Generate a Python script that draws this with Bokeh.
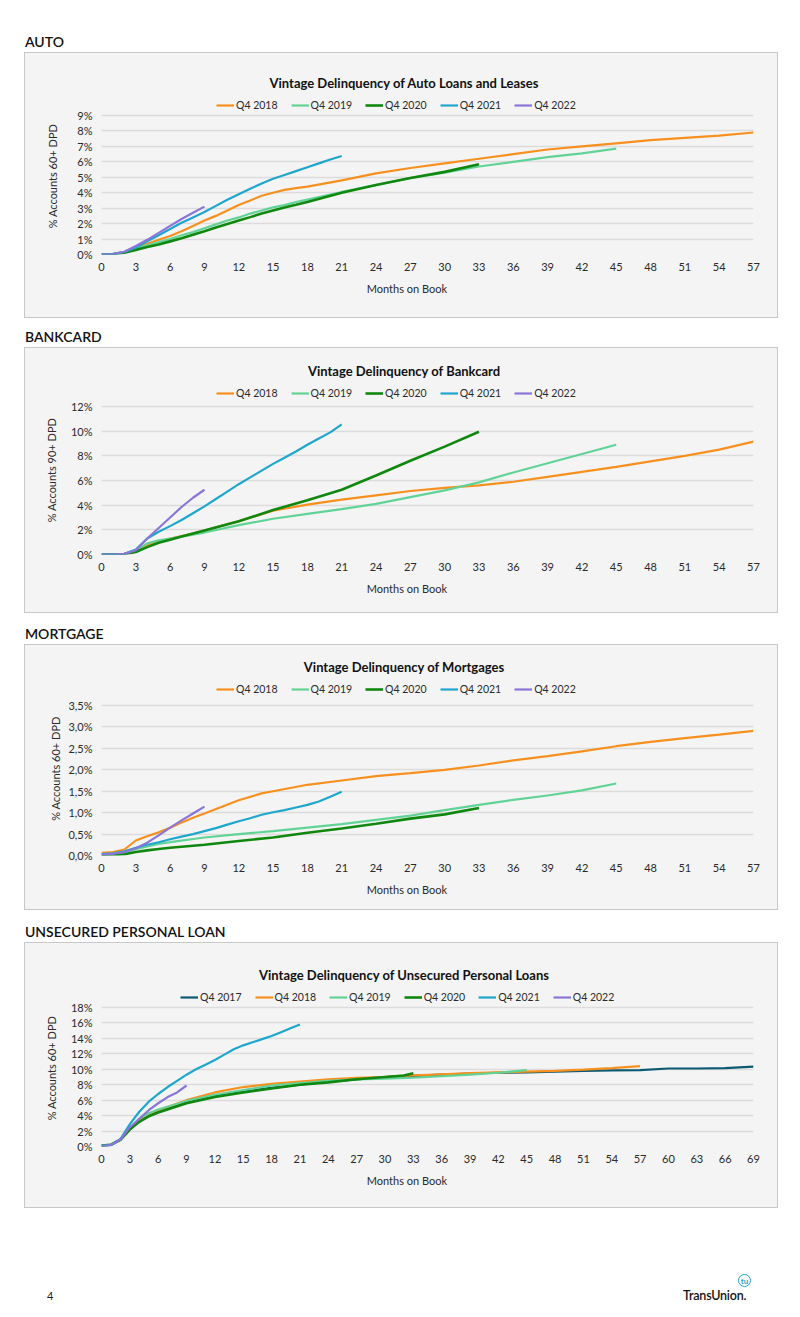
from bokeh.plotting import figure
from bokeh.models import (Legend, LegendItem, FixedTicker, Range1d, Div,
                          CustomJSTickFormatter)
from bokeh.layouts import column
from bokeh.embed import file_html
from bokeh.resources import INLINE

FONT = "Lato"
BG = "#f4f4f4"
COLORS = {"Q4 2017": "#0b5a72", "Q4 2018": "#f7901e", "Q4 2019": "#62d396",
          "Q4 2020": "#10870f", "Q4 2021": "#1fa6cc", "Q4 2022": "#8a75d9"}

# ---------------- AUTO ----------------
auto_m_2018 = [0,1,2,3,4,5,6,7,8,9,10,11,12,13,14,15,16,17,18,21,24,27,30,33,36,39,42,45,48,51,54,57]
auto_v_2018 = [0,0.03,0.18,0.45,0.7,0.95,1.2,1.5,1.85,2.2,2.5,2.85,3.2,3.5,3.8,4.0,4.18,4.3,4.4,4.8,5.25,5.6,5.9,6.2,6.5,6.8,7.0,7.2,7.4,7.55,7.7,7.9]
auto_m_2019 = [0,1,2,3,4,5,6,7,8,9,10,11,12,13,14,15,16,17,18,21,24,27,30,33,36,39,42,45]
auto_v_2019 = [0,0.02,0.15,0.4,0.6,0.8,1.0,1.25,1.45,1.7,1.95,2.2,2.4,2.65,2.85,3.05,3.2,3.4,3.55,4.05,4.5,4.95,5.3,5.7,6.0,6.3,6.55,6.85]
auto_m_2020 = [0,1,2,3,4,5,6,7,8,9,10,11,12,13,14,15,16,17,18,21,24,27,30,33]
auto_v_2020 = [0,0.02,0.12,0.3,0.48,0.65,0.85,1.05,1.28,1.5,1.75,1.98,2.2,2.42,2.65,2.85,3.05,3.22,3.4,4.0,4.5,4.95,5.35,5.85]
auto_m_2021 = [0,1,2,3,4,5,6,7,8,9,10,11,12,13,14,15,16,17,18,19,20,21]
auto_v_2021 = [0,0.03,0.17,0.45,0.85,1.25,1.65,2.05,2.4,2.75,3.15,3.55,3.9,4.25,4.6,4.9,5.15,5.4,5.65,5.9,6.15,6.38]
auto_m_2022 = [0,1,2,3,4,5,6,7,8,9]
auto_v_2022 = [0,0.03,0.18,0.55,0.95,1.4,1.85,2.3,2.7,3.1]

# ---------------- BANKCARD ----------------
bank_m_2018 = [0,1,2,3,4,5,6,7,8,9,10,11,12,15,18,21,24,27,30,33,36,39,42,45,48,51,54,57]
bank_v_2018 = [0,0,0.05,0.3,0.75,1.05,1.3,1.5,1.7,1.95,2.2,2.45,2.7,3.55,4.05,4.45,4.8,5.15,5.4,5.6,5.9,6.3,6.7,7.1,7.55,8.0,8.5,9.15]
bank_m_2019 = [0,1,2,3,4,5,6,7,8,9,12,15,18,21,24,27,30,33,36,39,42,45]
bank_v_2019 = [0,0,0.05,0.35,0.9,1.15,1.3,1.45,1.6,1.78,2.38,2.9,3.3,3.68,4.1,4.65,5.2,5.85,6.65,7.4,8.15,8.9]
bank_m_2020 = [0,1,2,3,4,5,6,7,8,9,12,15,18,21,24,27,30,33]
bank_v_2020 = [0,0,0.03,0.2,0.6,0.95,1.2,1.45,1.7,1.95,2.7,3.6,4.4,5.25,6.4,7.6,8.75,9.95]
bank_m_2021 = [0,1,2,3,4,5,6,7,8,9,10,11,12,13,14,15,16,17,18,19,20,21]
bank_v_2021 = [0,0,0.05,0.4,1.3,1.85,2.3,2.8,3.35,3.9,4.5,5.1,5.7,6.25,6.8,7.35,7.85,8.35,8.9,9.4,9.9,10.55]
bank_m_2022 = [0,1,2,3,4,5,6,7,8,9]
bank_v_2022 = [0,0,0.05,0.35,1.3,2.15,3.0,3.85,4.6,5.25]

# ---------------- MORTGAGE ----------------
mort_m_2018 = [0,1,2,3,4,5,6,7,8,9,12,14,15,18,21,24,27,30,33,36,39,42,45,48,51,54,57]
mort_v_2018 = [0.06,0.08,0.14,0.35,0.45,0.54,0.65,0.77,0.88,0.98,1.29,1.45,1.5,1.65,1.75,1.85,1.92,2.0,2.1,2.22,2.32,2.43,2.55,2.65,2.74,2.82,2.91]
mort_m_2019 = [0,1,2,3,4,5,6,9,12,15,18,21,24,27,30,33,36,39,42,45]
mort_v_2019 = [0.02,0.03,0.07,0.15,0.21,0.27,0.31,0.42,0.5,0.57,0.65,0.73,0.83,0.93,1.06,1.18,1.3,1.4,1.52,1.68]
mort_m_2020 = [0,1,2,3,4,5,6,9,12,15,18,21,24,27,30,33]
mort_v_2020 = [0,0.01,0.03,0.08,0.12,0.15,0.18,0.25,0.34,0.42,0.53,0.63,0.74,0.86,0.96,1.11]
mort_m_2021 = [0,1,2,3,4,5,6,7,8,9,10,11,12,13,14,15,16,17,18,19,20,21]
mort_v_2021 = [0.03,0.05,0.1,0.18,0.25,0.31,0.38,0.44,0.5,0.57,0.64,0.72,0.8,0.87,0.95,1.01,1.06,1.12,1.18,1.26,1.37,1.49]
mort_m_2022 = [0,1,2,3,4,5,6,7,8,9]
mort_v_2022 = [0.02,0.04,0.08,0.17,0.3,0.47,0.65,0.82,0.98,1.14]

# ---------------- UNSECURED PERSONAL LOAN ----------------
upl_m_2017 = [0,1,2,3,4,5,6,9,12,15,18,21,24,27,30,33,36,39,42,45,48,51,54,57,60,63,66,69]
upl_v_2017 = [0.15,0.25,0.9,2.3,3.4,4.0,4.5,5.7,6.5,7.1,7.6,8.0,8.4,8.7,9.0,9.15,9.3,9.45,9.55,9.6,9.7,9.8,9.85,9.9,10.1,10.1,10.15,10.35]
upl_m_2018 = [0,1,2,3,4,5,6,9,12,15,18,21,24,27,30,33,36,39,42,45,48,51,54,57]
upl_v_2018 = [0.1,0.25,0.9,2.3,3.5,4.2,4.7,6.0,7.0,7.7,8.1,8.4,8.7,8.9,9.0,9.2,9.35,9.5,9.6,9.7,9.8,9.95,10.15,10.4]
upl_m_2019 = [0,1,2,3,4,5,6,9,12,15,18,21,24,27,30,33,36,39,42,45]
upl_v_2019 = [0.1,0.25,0.9,2.3,3.6,4.3,4.8,5.9,6.7,7.3,7.9,8.2,8.5,8.7,8.8,8.9,9.1,9.3,9.55,9.9]
upl_m_2020 = [0,1,2,3,4,5,6,9,12,15,18,21,24,27,30,32,33]
upl_v_2020 = [0.1,0.2,0.85,2.2,3.2,3.9,4.4,5.6,6.4,7.0,7.5,8.0,8.3,8.7,9.0,9.2,9.5]
upl_m_2021 = [0,1,2,3,4,5,6,7,8,9,10,11,12,13,14,15,16,17,18,19,20,21]
upl_v_2021 = [0.1,0.2,0.95,2.9,4.5,5.8,6.8,7.7,8.5,9.3,10.0,10.6,11.2,11.9,12.6,13.1,13.5,13.9,14.3,14.8,15.3,15.8]
upl_m_2022 = [0,1,2,3,4,5,6,7,8,9]
upl_v_2022 = [0,0.2,0.9,2.5,3.6,4.7,5.6,6.4,7.0,7.9]

# ---------------- ticks ----------------
x_ticks_57 = [0,3,6,9,12,15,18,21,24,27,30,33,36,39,42,45,48,51,54,57]
x_ticks_69 = [0,3,6,9,12,15,18,21,24,27,30,33,36,39,42,45,48,51,54,57,60,63,66,69]
auto_y_ticks = [0,1,2,3,4,5,6,7,8,9]
auto_y_labels = ["0%","1%","2%","3%","4%","5%","6%","7%","8%","9%"]
bank_y_ticks = [0,2,4,6,8,10,12]
bank_y_labels = ["0%","2%","4%","6%","8%","10%","12%"]
mort_y_ticks = [0,0.5,1.0,1.5,2.0,2.5,3.0,3.5]
mort_y_labels = ["0,0%","0,5%","1,0%","1,5%","2,0%","2,5%","3,0%","3,5%"]
upl_y_ticks = [0,2,4,6,8,10,12,14,16,18]
upl_y_labels = ["0%","2%","4%","6%","8%","10%","12%","14%","16%","18%"]

X_LABEL = "Months on Book"
EM = "\u2003"   # trailing em spaces move the centred axis title left, under the box centre


def chart(title, ylabel, series, x_ticks, y_ticks, y_labels, title_off, legend_off,
          frame_top, frame_bottom, legend_left, ylabel_standoff):
    W, BOX_H = 752, 264
    head_h = title_off + 8                      # strip of the box used by the title
    H = BOX_H - head_h
    ext_top = legend_off - 8                    # frame reaches up to the legend
    grid_px = frame_bottom - frame_top
    frame_px = frame_bottom - ext_top
    y_end = y_ticks[-1] * frame_px / grid_px    # room above the top gridline for the legend

    title_div = Div(text=title, width=W, height=16, margin=(title_off - 8, 0, 0, 0),
                    styles={"font-family": FONT, "font-size": "13px", "font-weight": "700",
                            "line-height": "16px", "color": "#111111",
                            "text-align": "center", "padding-left": "6px",
                            "box-sizing": "border-box"})
    p = figure(width=W, height=H, output_backend="svg", toolbar_location=None,
               x_range=Range1d(x_ticks[0], x_ticks[-1]),
               y_range=Range1d(y_ticks[0], y_end),
               min_border_left=76, min_border_right=24,
               min_border_top=ext_top - head_h, min_border_bottom=BOX_H - frame_bottom,
               background_fill_color=BG, border_fill_color=BG,
               outline_line_color=None, margin=0)
    items = []
    for name, xs, ys in series:
        lw = 2.6 if name == "Q4 2020" else 2.2
        r = p.line(xs, ys, line_color=COLORS[name], line_width=lw)
        items.append(LegendItem(label=name, renderers=[r]))

    p.xgrid.grid_line_color = None
    p.ygrid.grid_line_color = "#dcdcdc"
    p.ygrid.grid_line_width = 1.3
    p.xaxis.ticker = FixedTicker(ticks=x_ticks)
    p.yaxis.ticker = FixedTicker(ticks=y_ticks)
    p.yaxis.formatter = CustomJSTickFormatter(args=dict(vals=y_ticks, labels=y_labels), code="""
        let best = 0;
        for (let i = 0; i < vals.length; i++) {
            if (Math.abs(vals[i] - tick) < Math.abs(vals[best] - tick)) best = i;
        }
        return labels[best];
    """)
    for ax in (p.xaxis, p.yaxis):
        ax.axis_line_color = None
        ax.major_tick_line_color = None
        ax.minor_tick_line_color = None
        ax.major_tick_out = 0
        ax.major_tick_in = 0
        ax.minor_tick_out = 0
        ax.major_label_text_font = FONT
        ax.major_label_text_font_size = "11px"
        ax.major_label_text_color = "#2a2a2a"
        ax.axis_label_text_font = FONT
        ax.axis_label_text_font_size = "11px"
        ax.axis_label_text_font_style = "normal"
        ax.axis_label_text_color = "#2a2a2a"
    p.xaxis.major_label_standoff = 8
    p.xaxis.axis_label = X_LABEL + EM * 5
    p.xaxis.axis_label_standoff = 8
    p.yaxis.major_label_standoff = 9
    p.yaxis.axis_label = ylabel
    p.yaxis.axis_label_standoff = ylabel_standoff

    legend = Legend(items=items, orientation="horizontal",
                    location=(legend_left - 100, frame_bottom - legend_off - 6),
                    glyph_width=18, glyph_height=12, label_height=12, label_standoff=2,
                    spacing=13, padding=0, margin=0, border_line_color=None,
                    background_fill_alpha=0, label_text_font=FONT,
                    label_text_font_size="10.5px", label_text_color="#2a2a2a")
    p.add_layout(legend)

    box = column(title_div, p, spacing=0, margin=(0, 0, 0, 24),
                 styles={"background-color": BG, "border": "1px solid #c8c8c8"})
    return box


def header(text, top):
    return Div(text=text, width=776, height=21, margin=(top, 0, 0, 25),
               styles={"font-family": FONT, "font-size": "14px", "font-weight": "600",
                       "line-height": "21px", "color": "#111111"})


p_auto = chart("Vintage Delinquency of Auto Loans and Leases", "% Accounts 60+ DPD",
               [("Q4 2018", auto_m_2018, auto_v_2018), ("Q4 2019", auto_m_2019, auto_v_2019),
                ("Q4 2020", auto_m_2020, auto_v_2020), ("Q4 2021", auto_m_2021, auto_v_2021),
                ("Q4 2022", auto_m_2022, auto_v_2022)],
               x_ticks_57, auto_y_ticks, auto_y_labels, 30, 52, 62, 201, 215, 15)
p_bank = chart("Vintage Delinquency of Bankcard", "% Accounts 90+ DPD",
               [("Q4 2018", bank_m_2018, bank_v_2018), ("Q4 2019", bank_m_2019, bank_v_2019),
                ("Q4 2020", bank_m_2020, bank_v_2020), ("Q4 2021", bank_m_2021, bank_v_2021),
                ("Q4 2022", bank_m_2022, bank_v_2022)],
               x_ticks_57, bank_y_ticks, bank_y_labels, 23, 45, 58, 206, 215, 10)
p_mort = chart("Vintage Delinquency of Mortgages", "% Accounts 60+ DPD",
               [("Q4 2018", mort_m_2018, mort_v_2018), ("Q4 2019", mort_m_2019, mort_v_2019),
                ("Q4 2020", mort_m_2020, mort_v_2020), ("Q4 2021", mort_m_2021, mort_v_2021),
                ("Q4 2022", mort_m_2022, mort_v_2022)],
               x_ticks_57, mort_y_ticks, mort_y_labels, 22, 44, 60, 210, 215, 3)
p_upl = chart("Vintage Delinquency of Unsecured Personal Loans", "% Accounts 60+ DPD",
              [("Q4 2017", upl_m_2017, upl_v_2017), ("Q4 2018", upl_m_2018, upl_v_2018),
               ("Q4 2019", upl_m_2019, upl_v_2019), ("Q4 2020", upl_m_2020, upl_v_2020),
               ("Q4 2021", upl_m_2021, upl_v_2021), ("Q4 2022", upl_m_2022, upl_v_2022)],
              x_ticks_69, upl_y_ticks, upl_y_labels, 32, 54, 64, 203, 179, 10)

footer = Div(text=(
    '<div style="position:relative;width:800px;height:32px;font-family:Lato;">'
    '<span style="position:absolute;left:47px;top:8px;font-size:11px;color:#222;">4</span>'
    '<span style="position:absolute;left:683px;top:7px;font-size:12.5px;font-weight:600;'
    'color:#111;letter-spacing:-0.2px;">TransUnion.</span>'
    '<span style="position:absolute;left:738px;top:-6px;width:13px;height:13px;'
    'border:1.5px solid #1fa6cc;border-radius:50%;font-size:8px;line-height:13px;'
    'text-align:center;color:#1fa6cc;font-weight:700;">tu</span>'
    '</div>'), width=800, height=32, margin=(72, 0, 0, 0))

page = column(header("AUTO", 31), p_auto,
              header("BANKCARD", 8), p_bank,
              header("MORTGAGE", 10), p_mort,
              header("UNSECURED PERSONAL LOAN", 11), p_upl,
              footer, spacing=0, margin=0)

open("out.html", "w").write(file_html(page, INLINE))
